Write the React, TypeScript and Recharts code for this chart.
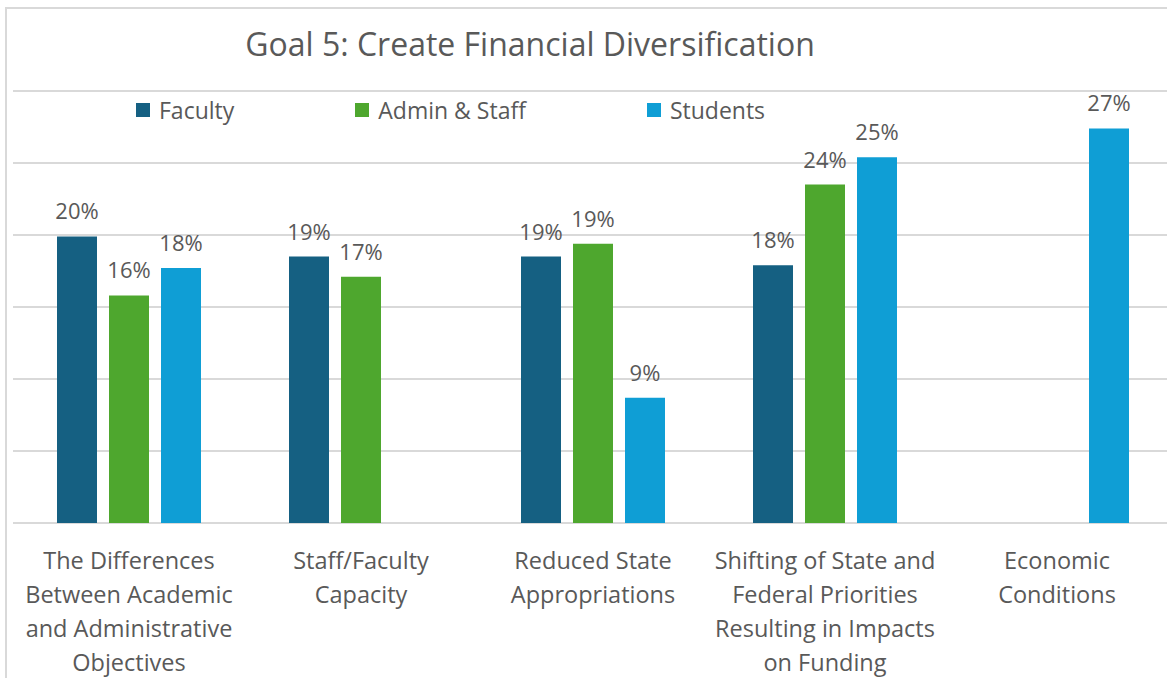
import { BarChart, Bar, XAxis, YAxis, CartesianGrid, LabelList, Legend } from 'recharts';

const categories: string[][] = [
  ['The Differences', 'Between Academic', 'and Administrative', 'Objectives'],
  ['Staff/Faculty', 'Capacity'],
  ['Reduced State', 'Appropriations'],
  ['Shifting of State and', 'Federal Priorities', 'Resulting in Impacts', 'on Funding'],
  ['Economic', 'Conditions'],
];
const faculty: (number | null)[] = [19.9, 18.5, 18.5, 17.9, null];
const adminStaff: (number | null)[] = [15.8, 17.1, 19.4, 23.5, null];
const students: (number | null)[] = [17.7, null, 8.7, 25.4, 27.4];
const yTicks = [0, 5, 10, 15, 20, 25, 30];

const FONT = '"Open Sans", "Liberation Sans", sans-serif';
const TEXT = '#595959';
const GRID = '#d9d9d9';

const series = [
  { key: 'faculty', name: 'Faculty', color: '#156082' },
  { key: 'admin', name: 'Admin & Staff', color: '#4EA72E' },
  { key: 'students', name: 'Students', color: '#0F9ED5' },
];

const data = categories.map((lines, i) => ({
  name: lines.join(' '),
  faculty: faculty[i],
  admin: adminStaff[i],
  students: students[i],
}));

function CategoryTick({ x, y, index }: any) {
  const lines = categories[index] || [];
  return (
    <text x={x} y={y} textAnchor="middle" fill={TEXT} fontSize={23.5} fontFamily={FONT}>
      {lines.map((l, i) => (
        <tspan key={i} x={x} dy={i === 0 ? 38 : 34}>
          {l}
        </tspan>
      ))}
    </text>
  );
}

function LegendContent() {
  return (
    <div style={{ display: 'flex', gap: 121, fontFamily: FONT, fontSize: 23, color: TEXT }}>
      {series.map((s) => (
        <div key={s.key} style={{ display: 'flex', alignItems: 'center' }}>
          <span style={{ width: 14, height: 14, background: s.color, display: 'inline-block', marginRight: 9 }} />
          <span>{s.name}</span>
        </div>
      ))}
    </div>
  );
}

const pct = (v: any) => (v == null ? '' : `${Math.round(v)}%`);

export default function App() {
  return (
    <div style={{ position: 'absolute', left: 0, top: 0, width: 1167, height: 678, overflow: 'hidden', background: '#fff' }}>
      <div
        style={{
          position: 'absolute',
          left: 5,
          top: 7,
          width: 1200,
          height: 700,
          borderLeft: `2px solid ${GRID}`,
          borderTop: `2px solid ${GRID}`,
        }}
      />
      <div
        style={{
          position: 'absolute',
          left: 0,
          top: 22,
          width: 1060,
          textAlign: 'center',
          fontFamily: FONT,
          fontSize: 32,
          color: TEXT,
          lineHeight: '44px',
        }}
      >
        Goal 5: Create Financial Diversification
      </div>
      <div style={{ position: 'absolute', left: 0, top: 0 }}>
        <BarChart
          width={1180}
          height={678}
          data={data}
          margin={{ top: 91, right: 7, bottom: 0, left: 13 }}
          barSize={40}
          barGap={12}
        >
          <CartesianGrid vertical={false} stroke={GRID} strokeWidth={2} />
          <YAxis hide domain={[0, 30]} ticks={yTicks} />
          <XAxis
            dataKey="name"
            interval={0}
            tickLine={false}
            axisLine={false}
            tick={<CategoryTick />}
            height={155}
          />
          <Legend
            verticalAlign="middle"
            content={<LegendContent />}
            wrapperStyle={{ top: 94, left: 136, width: 'auto' }}
          />
          {series.map((s) => (
            <Bar key={s.key} dataKey={s.key} name={s.name} fill={s.color} isAnimationActive={false}>
              <LabelList
                dataKey={s.key}
                position="top"
                offset={17}
                formatter={pct}
                fill={TEXT}
                fontSize={22}
                fontFamily={FONT}
              />
            </Bar>
          ))}
        </BarChart>
      </div>
    </div>
  );
}
